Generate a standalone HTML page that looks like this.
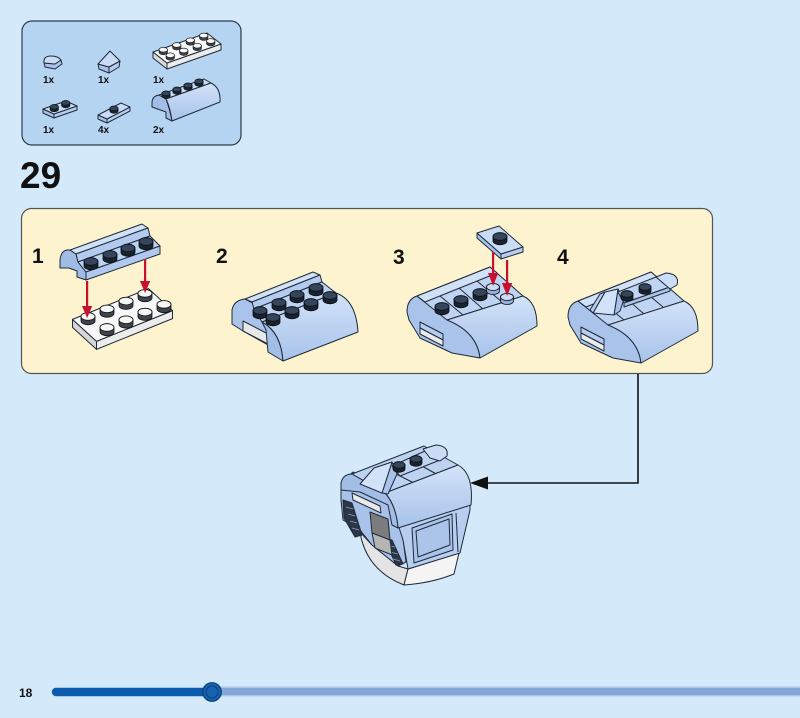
<!DOCTYPE html>
<html><head><meta charset="utf-8"><style>
html,body{margin:0;padding:0;background:#d4eafa;}
svg{display:block}
.b{stroke:#1f2a38;stroke-width:1;stroke-linejoin:round}
.t{font-family:"Liberation Sans",Arial,sans-serif;font-weight:bold;fill:#111}
</style></head><body>
<svg width="800" height="718" viewBox="0 0 800 718" xmlns="http://www.w3.org/2000/svg">
<defs>
<linearGradient id="cg" x1="0" y1="0" x2="0" y2="1"><stop offset="0" stop-color="#d3e3f9"/><stop offset="1" stop-color="#a7c2ea"/></linearGradient>
<g id="sd"><path d="M-7,0V-4.5A7,3.8 0 0 1 7,-4.5V0A7,3.8 0 0 1 -7,0Z" fill="#1a222e" stroke="#0b0f15" stroke-width="0.8"/><ellipse cx="0" cy="-4.5" rx="7" ry="3.8" fill="#34455c" stroke="#0b0f15" stroke-width="0.8"/></g>
<g id="sw"><path d="M-7,0V-4.5A7,3.8 0 0 1 7,-4.5V0A7,3.8 0 0 1 -7,0Z" fill="#3e444d" stroke="#111" stroke-width="0.8"/><ellipse cx="0" cy="-4.5" rx="7" ry="3.8" fill="#f6f6f6" stroke="#111" stroke-width="0.8"/></g>
<g id="sl"><path d="M-6.5,0V-4A6.5,3.5 0 0 1 6.5,-4V0A6.5,3.5 0 0 1 -6.5,0Z" fill="#93afd8" stroke="#111" stroke-width="0.8"/><ellipse cx="0" cy="-4" rx="6.5" ry="3.5" fill="#cadcf6" stroke="#111" stroke-width="0.8"/></g>
<g id="sm"><path d="M-6,0V-4A6,3.3 0 0 1 6,-4V0A6,3.3 0 0 1 -6,0Z" fill="#1a222e" stroke="#0b0f15" stroke-width="0.8"/><ellipse cx="0" cy="-4" rx="6" ry="3.3" fill="#34455c" stroke="#0b0f15" stroke-width="0.8"/></g>
<g id="ss"><path d="M-4.2,0V-2.6A4.2,2.3 0 0 1 4.2,-2.6V0A4.2,2.3 0 0 1 -4.2,0Z" fill="#1a222e" stroke="#0b0f15" stroke-width="0.6"/><ellipse cx="0" cy="-2.6" rx="4.2" ry="2.3" fill="#34455c" stroke="#0b0f15" stroke-width="0.6"/></g>
<g id="ssw"><path d="M-4.2,0V-2.6A4.2,2.3 0 0 1 4.2,-2.6V0A4.2,2.3 0 0 1 -4.2,0Z" fill="#3e444d" stroke="#111" stroke-width="0.6"/><ellipse cx="0" cy="-2.6" rx="4.2" ry="2.3" fill="#f6f6f6" stroke="#111" stroke-width="0.6"/></g>
<g id="base3">
  <path class="b" d="M407,312 Q407,299 417,296 L447,319 Q477,332 480,358 L452,353 L420,338 L409,320 Z" fill="#a9c3ea"/>
  <polygon class="b" points="420,322 443,334 443,340 420,328" fill="#b6cdef"/>
  <polygon class="b" points="420,328 443,340 443,346 420,334" fill="#ebebeb"/>
  <polygon class="b" points="417,296 490,267 523,296 447,320" fill="#bfd4f2"/>
  <polygon class="b" points="417,296 490,267 497,273 425,302" fill="#d0e1f8"/>
  <line class="b" x1="440" y1="296" x2="463" y2="315"/>
  <line class="b" x1="459" y1="288" x2="483" y2="309"/>
  <line class="b" x1="477" y1="281" x2="502" y2="302"/>
  <path class="b" d="M447,320 L523,296 Q537,302 537,326 L480,358 Q477,332 447,320 Z" fill="url(#cg)"/>
</g>
</defs>

<rect x="22" y="21" width="219" height="124" rx="10" fill="#b5d4f1" stroke="#2e3b4a" stroke-width="1.2"/>
<path class="b" d="M44,63 L45,67 L55,69 L62,64 L61,60 L55,64 Z" fill="#a8c2ea"/>
<path class="b" d="M44,63 Q43,56 51,56 Q58,56 61,60 L55,64 Z" fill="#c9dcf5"/>
<polygon class="b" points="98,64 109,67 109,73 99,69" fill="#a8c2ea"/>
<polygon class="b" points="109,67 120,61 119,67 109,73" fill="#b6cdef"/>
<polygon class="b" points="98,64 110,51 120,61 109,67" fill="#c9dcf5"/>
<polygon class="b" points="153,52 167,63 167,69 153,58" fill="#d9d9d9"/>
<polygon class="b" points="167,63 221,44 221,50 167,69" fill="#ececec"/>
<polygon class="b" points="153,52 207,33 221,44 167,63" fill="#f8f8f8"/>
<use href="#ssw" x="203.75" y="38.1"/><use href="#ssw" x="190.25" y="42.9"/><use href="#ssw" x="210.75" y="43.6"/>
<use href="#ssw" x="176.75" y="47.6"/><use href="#ssw" x="197.25" y="48.4"/><use href="#ssw" x="163.25" y="52.4"/>
<use href="#ssw" x="183.75" y="53.1"/><use href="#ssw" x="170.25" y="57.9"/>
<text class="t" x="43" y="83" font-size="10">1x</text>
<text class="t" x="98" y="83" font-size="10">1x</text>
<text class="t" x="153" y="83" font-size="10">1x</text>
<polygon class="b" points="43,109 54,114 54,118 43,113" fill="#a8c2ea"/>
<polygon class="b" points="54,114 77,106 77,110 54,118" fill="#b6cdef"/>
<polygon class="b" points="43,109 66,101 77,106 54,114" fill="#c9dcf5"/>
<use href="#ss" x="65.75" y="105.5"/><use href="#ss" x="54.25" y="109.5"/>
<polygon class="b" points="98,115 107,119 107,123 98,119" fill="#a8c2ea"/>
<polygon class="b" points="107,119 130,107 130,111 107,123" fill="#b6cdef"/>
<polygon class="b" points="98,115 121,103 130,107 107,119" fill="#c9dcf5"/>
<use href="#ss" x="114" y="111"/>
<path class="b" d="M152,103 Q152,96 159,95 L166,99 Q170,110 172,121 L166,118 L166,112 L152,107 Z" fill="#a2bde6"/>
<polygon class="b" points="159,95 204,79 211,83 166,99" fill="#c9dcf5"/>
<use href="#ss" x="199" y="84"/><use href="#ss" x="188" y="88"/><use href="#ss" x="177" y="92"/><use href="#ss" x="166" y="96"/>
<path class="b" d="M166,99 L211,83 Q221,88 220,102 L172,121 Q170,107 166,99 Z" fill="url(#cg)"/>
<text class="t" x="43" y="133" font-size="10">1x</text>
<text class="t" x="98" y="133" font-size="10">4x</text>
<text class="t" x="153" y="133" font-size="10">2x</text>

<text class="t" x="20" y="188" font-size="37">29</text>

<rect x="21.5" y="208.5" width="691" height="165" rx="10" fill="#fdf3cf" stroke="#555" stroke-width="1.2"/>
<text class="t" x="32" y="263" font-size="21">1</text>
<text class="t" x="216" y="263" font-size="21">2</text>
<text class="t" x="393" y="264" font-size="21">3</text>
<text class="t" x="557" y="264" font-size="21">4</text>

<polygon class="b" points="72.5,319.4 96.5,341.4 96.5,349.4 72.5,327.4" fill="#d6d6d6"/>
<polygon class="b" points="96.5,341.4 172.5,310.6 172.5,318.6 96.5,349.4" fill="#ececec"/>
<polygon class="b" points="72.5,319.4 148.5,288.6 172.5,310.6 96.5,341.4" fill="#f8f8f8"/>
<use href="#sw" x="145" y="297.9"/><use href="#sw" x="126" y="305.6"/><use href="#sw" x="164" y="308.9"/>
<use href="#sw" x="107" y="313.4"/><use href="#sw" x="145" y="316.6"/><use href="#sw" x="88" y="321"/>
<use href="#sw" x="126" y="324.3"/><use href="#sw" x="107" y="332"/>
<path class="b" d="M60,268 L60,260 Q61,249 70,250 L76,254 L78,262 L86,272 L86,280 L77,277 L77,271 L69,268 Z" fill="#a0bbe4"/>
<polygon class="b" points="70,250 142,224 148,228 76,254" fill="#d0e1f8"/>
<polygon class="b" points="76,254 148,228 150,236 78,262" fill="#b3cbee"/>
<polygon class="b" points="78,262 150,236 160,246 86,272" fill="#bdd3f2"/>
<polygon class="b" points="86,272 160,246 160,254 86,280" fill="#b0c8ed"/>
<use href="#sd" x="146" y="246"/><use href="#sd" x="128" y="252.5"/><use href="#sd" x="110" y="259"/><use href="#sd" x="91" y="266"/>
<g fill="#c8102e" stroke="none">
<rect x="86" y="281" width="2.2" height="26"/><polygon points="82,306 92.2,306 87.1,318"/>
<rect x="144" y="259" width="2.2" height="23"/><polygon points="140,281 150.2,281 145.1,293"/>
</g>

<path class="b" d="M232,321 L232,310 Q234,300 245,299 L262,308 L266,322 L268,345 L243,331 L232,324 Z" fill="#a9c3ea"/>
<polygon class="b" points="243,321 268,334 268,344 243,331" fill="#e8e8e8"/>
<polygon class="b" points="245,299 313,272 320,275 252,302" fill="#d0e1f8"/>
<polygon class="b" points="252,302 320,275 322,282 254,309" fill="#b3cbee"/>
<polygon class="b" points="254,309 322,282 336,293 262,322" fill="#bdd3f2"/>
<use href="#sd" x="316" y="292"/><use href="#sd" x="297" y="299"/><use href="#sd" x="279" y="307"/><use href="#sd" x="260" y="315"/>
<path class="b" d="M262,322 Q281,332 283,361 L268,352 L266,330 Z" fill="#a3bee6"/>
<path class="b" d="M262,322 L336,293 Q356,300 358,332 L283,361 Q281,332 262,322 Z" fill="url(#cg)"/>
<use href="#sd" x="330" y="300"/><use href="#sd" x="311" y="307"/><use href="#sd" x="292" y="315"/><use href="#sd" x="273" y="322"/>

<use href="#base3"/>
<use href="#sd" x="480" y="297"/><use href="#sd" x="461" y="304"/><use href="#sd" x="442" y="311"/>
<use href="#sl" x="493" y="291"/><use href="#sl" x="507" y="301"/>
<polygon class="b" points="477,233 501,254 501,259 477,238" fill="#a8c2ea"/>
<polygon class="b" points="501,254 523,247 523,252 501,259" fill="#b6cdef"/>
<polygon class="b" points="477,233 499,226 523,247 501,254" fill="#c9dcf5"/>
<use href="#sd" x="500" y="241"/>
<g fill="#c8102e" stroke="none">
<rect x="492" y="252" width="2.2" height="22"/><polygon points="488,273 498.2,273 493.1,286"/>
<rect x="506" y="260" width="2.2" height="24"/><polygon points="502,283 512.2,283 507.1,296"/>
</g>

<use href="#base3" transform="translate(161,5)"/>
<polygon class="b" points="618,289 624,299 620,311 614,315" fill="#a8c2ea"/>
<polygon class="b" points="605,292 618,289 614,315 593,313" fill="#d2e2f8"/>
<polygon class="b" points="593,313 605,292 600,294 590,310" fill="#b6cdef"/>
<polygon class="b" points="618,292 656,277 670,287 624,303" fill="#bed4f2"/>
<polygon class="b" points="624,303 670,287 670,291 624,307" fill="#a9c3ea"/>
<use href="#sm" x="645" y="291"/><use href="#sm" x="627" y="298"/>
<path class="b" d="M656,277 L666,273 Q680,274 677,285 L670,289 Z" fill="#cadcf6"/>

<polyline points="638,374 638,483 485,483" fill="none" stroke="#111" stroke-width="1.6"/>
<polygon points="470,483 488,476.5 488,489.5" fill="#111"/>

<path class="b" d="M360,532 Q366,570 404,585 L408,569 L398,566 L372,545 Z" fill="#e4e4e4"/>
<path class="b" d="M408,569 L459,553 L454,574 Q432,583 404,585 Z" fill="#f4f4f4"/>
<polygon class="b" points="341,483 353,472 392,493 402,530 406,562 398,566 372,545 360,530 343,520 341,500" fill="#a8c2ea"/>
<polygon class="b" points="343,500 352,503 362,535 355,537 344,518" fill="#2b3646"/>
<g stroke="#8aa2c4" stroke-width="0.8"><line x1="346" y1="507" x2="353" y2="509"/><line x1="348" y1="514" x2="355" y2="516"/><line x1="350" y1="521" x2="357" y2="523"/><line x1="352" y1="528" x2="359" y2="530"/></g>
<polygon class="b" points="384,538 392,540 403,564 396,565" fill="#2b3646"/>
<g stroke="#8aa2c4" stroke-width="0.8"><line x1="387" y1="545" x2="395" y2="547"/><line x1="390" y1="552" x2="398" y2="554"/><line x1="393" y1="559" x2="400" y2="561"/></g>
<polygon class="b" points="370,512 388,519 390,540 372,533" fill="#7c7c7c"/>
<polygon class="b" points="372,533 390,540 392,555 375,548" fill="#b5b5b5"/>
<polygon class="b" points="352,493 380,506 381,513 353,500" fill="#eaeaea"/>
<polygon class="b" points="395,515 470,488 470,510 460,553 408,569 403,540" fill="#b7cef0"/>
<polygon class="b" points="412,528 452,514 453,550 414,563" fill="#aac4ea"/>
<polygon class="b" points="416,531 449,519 450,545 418,557" fill="none"/>
<line class="b" x1="456" y1="513" x2="458" y2="552"/>
<polygon class="b" points="352,474 424,446 458,465 385,493" fill="#bdd3f2"/>
<line class="b" x1="396" y1="474" x2="420" y2="486"/>
<line class="b" x1="420" y1="465" x2="440" y2="476"/>
<path class="b" d="M385,493 L458,465 Q474,474 471,505 L398,528 Q396,505 385,493 Z" fill="url(#cg)"/>
<path class="b" d="M341,490 L341,483 Q343,474 352,474 L385,493 Q396,505 398,528 L392,525 L388,505 L360,492 Z" fill="#a2bde6"/>
<polygon class="b" points="392,462 397,474 388,494 382,493" fill="#a8c2ea"/>
<polygon class="b" points="374,468 392,462 382,493 360,484" fill="#d2e2f8"/>
<polygon class="b" points="392,466 425,451 440,460 400,476" fill="#bed4f2"/>
<use href="#sm" x="416" y="463"/><use href="#sm" x="399" y="469"/>
<path class="b" d="M423,449 L436,445 Q449,446 447,456 L440,461 L430,458 Z" fill="#cadcf6"/>

<rect x="205" y="686.5" width="600" height="10" fill="#a9c6ea"/>
<rect x="205" y="688" width="600" height="7" fill="#83a5d8"/>
<line x1="56" y1="692" x2="212" y2="692" stroke="#0b5cad" stroke-width="8.5" stroke-linecap="round"/>
<circle cx="212" cy="692" r="9.3" fill="#1764b3" stroke="#0c3c76" stroke-width="1.2"/>
<circle cx="212" cy="692" r="6" fill="#1764b3" stroke="#0c3c76" stroke-width="1"/>
<text class="t" x="19" y="697" font-size="12">18</text>
</svg>
</body></html>
